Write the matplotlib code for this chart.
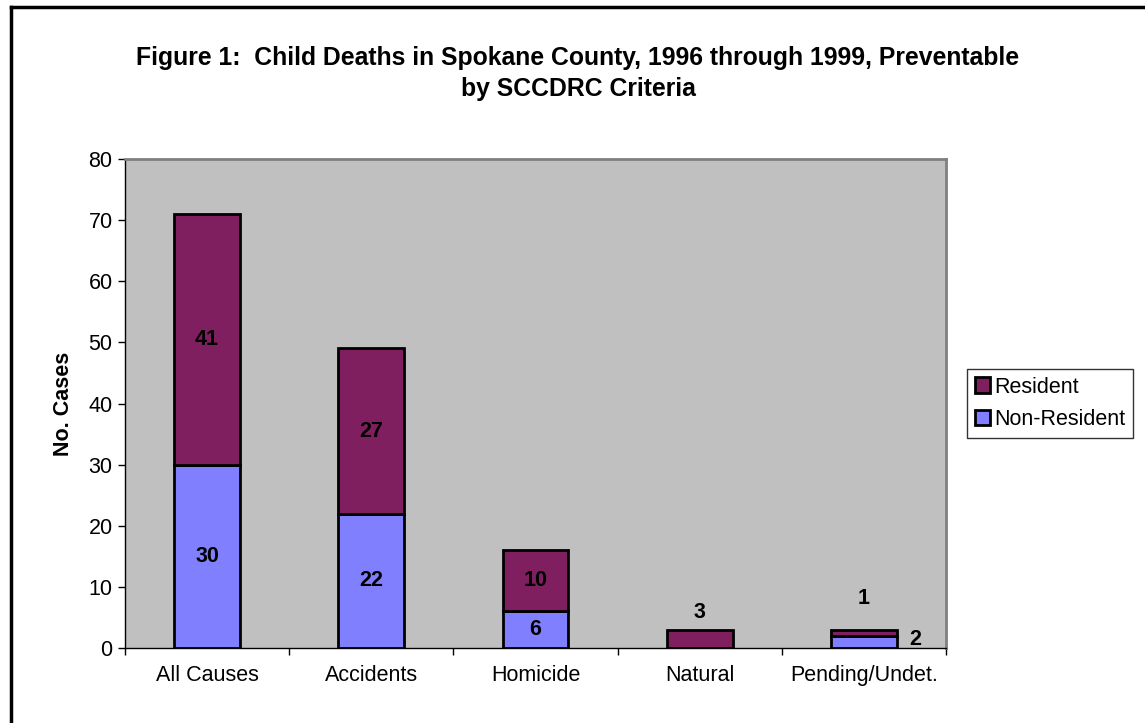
import numpy as np
import matplotlib.pyplot as plt
from matplotlib.lines import Line2D

plt.rcParams['font.family'] = ['Liberation Sans', 'DejaVu Sans']

# Dados
categorias = ['All Causes', 'Accidents', 'Homicide', 'Natural', 'Pending/Undet.']
nao_residente = [30, 22, 6, 0, 2]
residente = [41, 27, 10, 3, 1]

cor_res = '#801F60'
cor_nres = '#8080FF'
fs = 15.5

fig = plt.figure(figsize=(11.45, 7.23), dpi=100)
ax = fig.add_axes([125/1145, 1 - 648/723, (946-125)/1145, (648-159)/723])
ax.set_facecolor('#C0C0C0')

x = np.arange(len(categorias))
largura = 0.4
ax.bar(x, nao_residente, largura, color=cor_nres, edgecolor='black', linewidth=2,
       label='Non-Resident', zorder=3)
ax.bar(x, residente, largura, bottom=nao_residente, color=cor_res, edgecolor='black',
       linewidth=2, label='Resident', zorder=3)

# Rotulos dos valores
for i in range(len(categorias)):
    nr = nao_residente[i]
    r = residente[i]
    if i < 3:
        ax.text(x[i], nr / 2, str(nr), ha='center', va='center', fontsize=fs, fontweight='bold', zorder=4)
        ax.text(x[i], nr + r / 2, str(r), ha='center', va='center', fontsize=fs, fontweight='bold', zorder=4)
    elif nr == 0:
        ax.annotate(str(r), (x[i], nr + r), xytext=(0, 5), textcoords='offset points',
                    ha='center', va='bottom', fontsize=fs, fontweight='bold')
    else:
        ax.annotate(str(r), (x[i], nr + r), xytext=(0, 15), textcoords='offset points',
                    ha='center', va='bottom', fontsize=fs, fontweight='bold')
        ax.annotate(str(nr), (x[i] + largura / 2, nr / 2), xytext=(9, 2), textcoords='offset points',
                    ha='left', va='center', fontsize=fs, fontweight='bold')

ax.set_xlim(-0.5, len(categorias) - 0.5)
ax.set_ylim(0, 80)
ax.set_yticks(range(0, 81, 10))
ax.set_xticks(x)
ax.set_xticklabels(categorias)
ax.set_xticks(np.arange(-0.5, len(categorias)), minor=True)
ax.tick_params(axis='x', which='major', length=0, pad=12, labelsize=fs)
ax.tick_params(axis='x', which='minor', length=5, width=1, direction='out')
ax.tick_params(axis='y', length=5, width=1, direction='out', labelsize=fs, pad=4)
ax.set_ylabel('No. Cases', fontsize=fs, fontweight='bold', labelpad=10)

for lado in ['top', 'right']:
    ax.spines[lado].set_color('#808080')
    ax.spines[lado].set_linewidth(2)
for lado in ['left', 'bottom']:
    ax.spines[lado].set_color('black')
    ax.spines[lado].set_linewidth(1)

h, l = ax.get_legend_handles_labels()
leg = fig.legend(h[::-1], l[::-1], loc='upper left', bbox_to_anchor=(967/1145, 1 - 369/723),
                 fontsize=fs, frameon=True, fancybox=False, edgecolor='black',
                 handlelength=0.7, handleheight=0.7, handletextpad=0.2, borderpad=0.35,
                 labelspacing=0.55, borderaxespad=0)
leg.get_frame().set_linewidth(1)

fig.text(578/1145, 1 - 58/723, 'Figure 1:  Child Deaths in Spokane County, 1996 through 1999, Preventable',
         ha='center', va='center', fontsize=17.8, fontweight='bold')
fig.text(578/1145, 1 - 89/723, 'by SCCDRC Criteria',
         ha='center', va='center', fontsize=17.8, fontweight='bold')

# Moldura (apenas esquerda e topo visiveis)
fig.add_artist(Line2D([11/1145, 11/1145], [0, 1 - 7/723], color='black', linewidth=2.5))
fig.add_artist(Line2D([11/1145, 1], [1 - 7/723, 1 - 7/723], color='black', linewidth=2.5))

fig.savefig('out.png', dpi=100)
